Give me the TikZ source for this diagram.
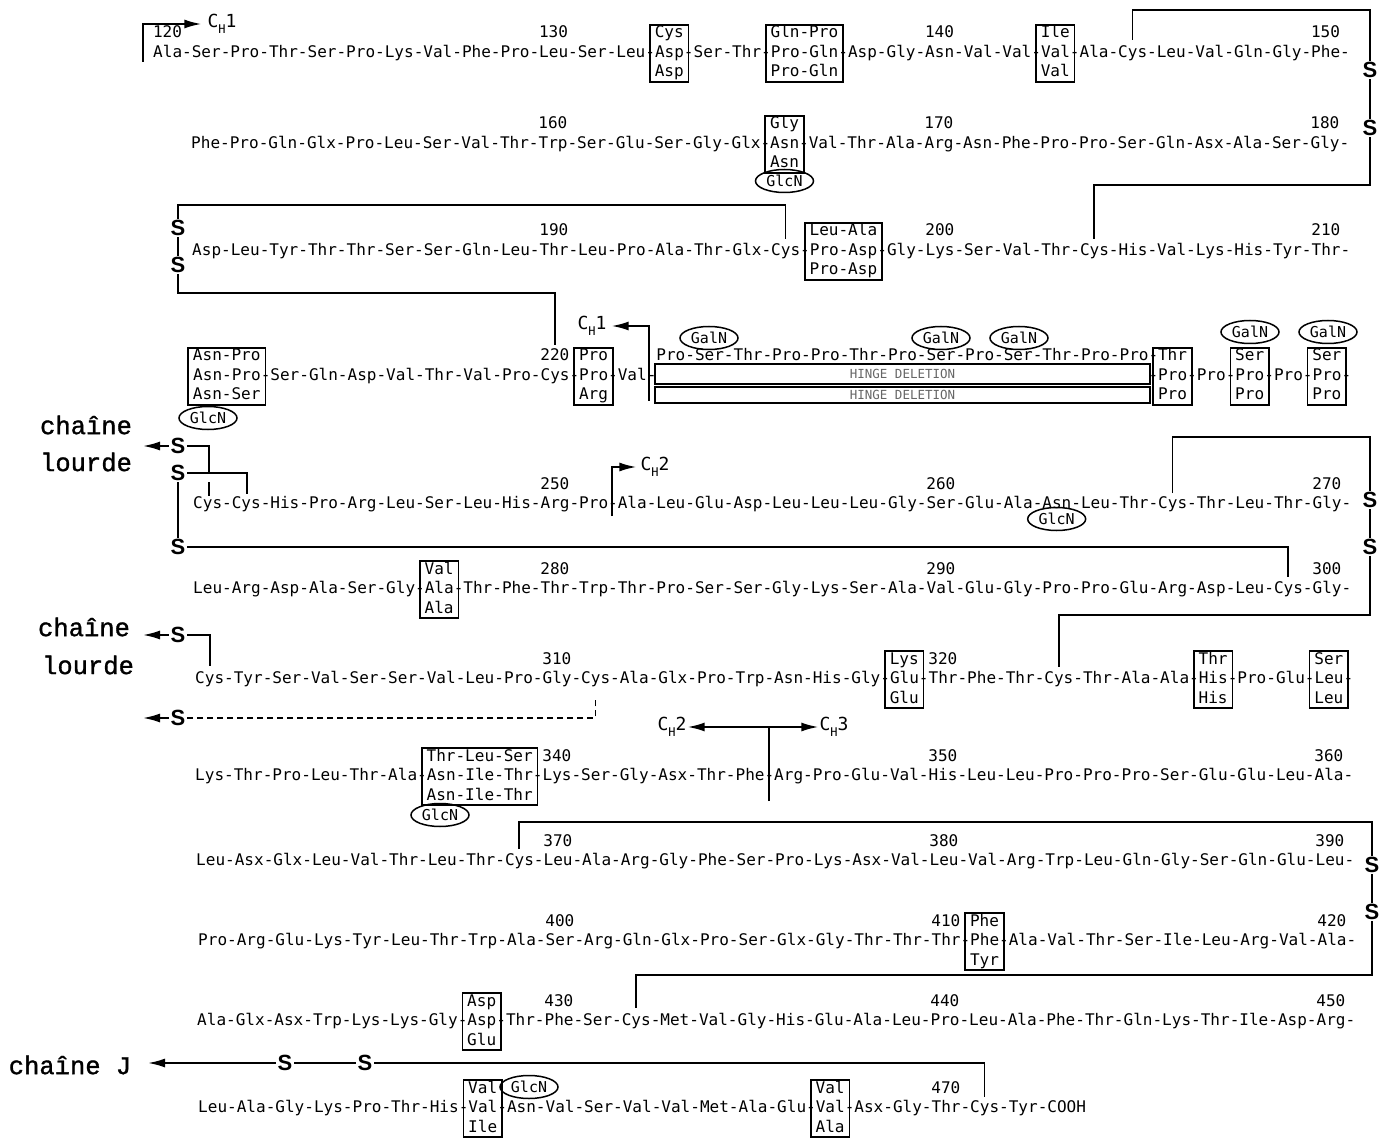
\documentclass[tikz,border=0pt]{standalone}
\usepackage{fontspec}
\usetikzlibrary{arrows.meta,shapes.geometric}
\newfontfamily\seqfont{DejaVu Sans Mono}
\newfontfamily\chfont{Liberation Mono}[FakeBold=1.2]
\newfontfamily\sfont{Liberation Sans}
\newcommand\cw{9.65}
\newcommand\bo{5.5}
\newcommand\chlab[1]{C\raisebox{-6pt}{\fontsize{12}{12}\selectfont H}#1}
% #1 name, #2 row x0, #3 residue index, #4 chars, #5 row centre y, #6 top, #7 bottom
\newcommand\seqbox[7]{%
  \node[boxst, minimum width={(#4+1)*\cw*1pt}] (#1) at ({#2+(4*#3+#4/2)*\cw}, {#5+1.5}) {};
  \node[seq, anchor=base] (#1t) at ({#2+(4*#3+#4/2)*\cw}, {#5-19.5+\bo}) {#6};
  \node[seq, anchor=base] (#1b) at ({#2+(4*#3+#4/2)*\cw}, {#5+19.5+\bo}) {#7};}
% #1 name, #2 row x0, #3 residue index, #4 row centre y, #5 text
\newcommand\seqnum[5]{%
  \node[seq, anchor=base] (#1) at ({#2+(4*#3+1.5)*\cw}, {#4-19.5+\bo}) {#5};}
\begin{document}
\begin{tikzpicture}[x=1pt,y=-1pt,
  seq/.style={font=\seqfont\fontsize{16.03}{19.5}\selectfont, inner sep=0pt},
  boxst/.style={draw, line width=1.7pt, minimum height=57pt, inner sep=0pt},
  sst/.style={font=\sfont\bfseries\fontsize{22}{22}\selectfont, inner sep=1.5pt},
  ss/.style={line width=1.9pt},
  arr/.style={line width=1.9pt,-{Latex[length=17pt,width=9pt]}},
  darr/.style={line width=1.9pt,{Latex[length=17pt,width=9pt]}-{Latex[length=17pt,width=9pt]}},
  gl/.style={ellipse, draw, line width=1.5pt, minimum width=58pt, minimum height=23pt, inner sep=0pt, font=\seqfont\fontsize{15}{15}\selectfont},
  hbar/.style={draw, line width=1.5pt, minimum width=495pt, inner sep=0pt, font=\seqfont\fontsize{12.5}{12.5}\selectfont, text=black!60},
  chst/.style={font=\chfont\fontsize{25.5}{30}\selectfont, inner sep=0pt},
  chl/.style={font=\seqfont\fontsize{18}{18}\selectfont, inner sep=1pt}]
\fill[white] (0,0) rectangle (1395,1139);
\useasboundingbox (0,0) rectangle (1395,1139);

% ---------- row a (120-150)
\node[seq, anchor=base west] (ra) at (153,{52+\bo}) {Ala-Ser-Pro-Thr-Ser-Pro-Lys-Val-Phe-Pro-Leu-Ser-Leu-Asp-Ser-Thr-Pro-Gln-Asp-Gly-Asn-Val-Val-Val-Ala-Cys-Leu-Val-Gln-Gly-Phe-};
\seqbox{ba1}{153}{13}{3}{52}{Cys}{Asp}
\seqbox{ba2}{153}{16}{7}{52}{Gln-Pro}{Pro-Gln}
\seqbox{ba3}{153}{23}{3}{52}{Ile}{Val}
\seqnum{na1}{153}{0}{52}{120}
\seqnum{na2}{153}{10}{52}{130}
\seqnum{na3}{153}{20}{52}{140}
\seqnum{na4}{153}{30}{52}{150}
\coordinate (ch0) at (143,62);
\node[chl] (lch0) at (222,24) {\chlab{1}};
\draw[arr] (ch0) |- ([xshift=-5pt]lch0.west);

% ---------- row b (151-180)
\node[seq, anchor=base west] (rb) at (191,{143+\bo}) {Phe-Pro-Gln-Glx-Pro-Leu-Ser-Val-Thr-Trp-Ser-Glu-Ser-Gly-Glx-Asn-Val-Thr-Ala-Arg-Asn-Phe-Pro-Pro-Ser-Gln-Asx-Ala-Ser-Gly-};
\seqbox{bb1}{191}{15}{3}{143}{Gly}{Asn}
\node[gl] (gb1) at ({191+61.5*\cw},181) {GlcN};
\seqnum{nb1}{191}{9}{143}{160}
\seqnum{nb2}{191}{19}{143}{170}
\seqnum{nb3}{191}{29}{143}{180}

% ---------- row c (181-210)
\node[seq, anchor=base west] (rc) at (192,{250+\bo}) {Asp-Leu-Tyr-Thr-Thr-Ser-Ser-Gln-Leu-Thr-Leu-Pro-Ala-Thr-Glx-Cys-Pro-Asp-Gly-Lys-Ser-Val-Thr-Cys-His-Val-Lys-His-Tyr-Thr-};
\seqbox{bc1}{192}{16}{7}{250}{Leu-Ala}{Pro-Asp}
\seqnum{nc1}{192}{9}{250}{190}
\seqnum{nc2}{192}{19}{250}{200}
\seqnum{nc3}{192}{29}{250}{210}

% ---------- row d (hinge)
\node[seq, anchor=base west] (rd1) at (193,{375+\bo}) {Asn-Pro-Ser-Gln-Asp-Val-Thr-Val-Pro-Cys-Pro-Val-};
\node[seq, anchor=base west] (rd2) at ({193+99*\cw},{375+\bo}) {-Pro-Pro-Pro-Pro-Pro-};
\node[seq, anchor=base west] (rdh) at ({193+48*\cw},{375-19.5+\bo}) {Pro-Ser-Thr-Pro-Pro-Thr-Pro-Ser-Pro-Ser-Thr-Pro-Pro-};
\seqbox{bd1}{193}{0}{7}{375}{Asn-Pro}{Asn-Ser}
\seqbox{bd2}{193}{10}{3}{375}{Pro}{Arg}
\seqbox{bd3}{193}{25}{3}{375}{Thr}{Pro}
\seqbox{bd4}{193}{27}{3}{375}{Ser}{Pro}
\seqbox{bd5}{193}{29}{3}{375}{Ser}{Pro}
\seqnum{nd1}{193}{9}{375}{220}
\node[hbar, minimum height=20pt] (hd1) at (902.5,374) {HINGE DELETION};
\node[hbar, minimum height=16pt] (hd2) at (902.5,395) {HINGE DELETION};
\node[gl] (gd1) at (208,418) {GlcN};
\node[gl] (gd2) at (709,338) {GalN};
\node[gl] (gd3) at (941,338) {GalN};
\node[gl] (gd4) at (1019,338) {GalN};
\node[gl] (gd5) at (1250,332) {GalN};
\node[gl] (gd6) at (1328,332) {GalN};
\coordinate (chA) at (649,401);
\node[chl] (lch1) at (592,326) {\chlab{1}};
\draw[arr] (chA) |- ([xshift=4pt]lch1.east);

% ---------- row e (241-270)
\node[seq, anchor=base west] (re) at (193,{503+\bo}) {Cys-Cys-His-Pro-Arg-Leu-Ser-Leu-His-Arg-Pro-Ala-Leu-Glu-Asp-Leu-Leu-Leu-Gly-Ser-Glu-Ala-Asn-Leu-Thr-Cys-Thr-Leu-Thr-Gly-};
\seqnum{ne1}{193}{9}{503}{250}
\seqnum{ne2}{193}{19}{503}{260}
\seqnum{ne3}{193}{29}{503}{270}
\node[gl] (ge1) at ({193+89.5*\cw},519) {GlcN};
\coordinate (chE) at (612,516);
\node[chl] (lch2) at (655,467) {\chlab{2}};
\draw[arr] (chE) |- ([xshift=-3pt]lch2.west);

% ---------- row f (271-300)
\node[seq, anchor=base west] (rf) at (193,{588+\bo}) {Leu-Arg-Asp-Ala-Ser-Gly-Ala-Thr-Phe-Thr-Trp-Thr-Pro-Ser-Ser-Gly-Lys-Ser-Ala-Val-Glu-Gly-Pro-Pro-Glu-Arg-Asp-Leu-Cys-Gly-};
\seqbox{bf1}{193}{6}{3}{588}{Val}{Ala}
\seqnum{nf1}{193}{9}{588}{280}
\seqnum{nf2}{193}{19}{588}{290}
\seqnum{nf3}{193}{29}{588}{300}

% ---------- row g (301-330)
\node[seq, anchor=base west] (rg) at (195,{678+\bo}) {Cys-Tyr-Ser-Val-Ser-Ser-Val-Leu-Pro-Gly-Cys-Ala-Glx-Pro-Trp-Asn-His-Gly-Glu-Thr-Phe-Thr-Cys-Thr-Ala-Ala-His-Pro-Glu-Leu-};
\seqbox{bg1}{195}{18}{3}{678}{Lys}{Glu}
\seqbox{bg2}{195}{26}{3}{678}{Thr}{His}
\seqbox{bg3}{195}{29}{3}{678}{Ser}{Leu}
\seqnum{ng1}{195}{9}{678}{310}
\seqnum{ng2}{195}{19}{678}{320}

% ---------- row h (331-360)
\node[seq, anchor=base west] (rh) at (195,{775+\bo}) {Lys-Thr-Pro-Leu-Thr-Ala-Asn-Ile-Thr-Lys-Ser-Gly-Asx-Thr-Phe-Arg-Pro-Glu-Val-His-Leu-Leu-Pro-Pro-Pro-Ser-Glu-Glu-Leu-Ala-};
\seqbox{bh1}{195}{6}{11}{775}{Thr-Leu-Ser}{Asn-Ile-Thr}
\node[gl] (gh1) at (440,815) {GlcN};
\seqnum{nh1}{195}{9}{775}{340}
\seqnum{nh2}{195}{19}{775}{350}
\seqnum{nh3}{195}{29}{775}{360}
\node[chl] (lch3a) at (672,727) {\chlab{2}};
\node[chl] (lch3b) at (834,727) {\chlab{3}};
\draw[darr] (lch3a.east) -- (lch3b.west);
\coordinate (chH) at ({195+59.5*\cw},801);
\draw[ss] (chH) -- (chH |- lch3a.east);

% ---------- row i (361-390)
\node[seq, anchor=base west] (ri) at (196,{860+\bo}) {Leu-Asx-Glx-Leu-Val-Thr-Leu-Thr-Cys-Leu-Ala-Arg-Gly-Phe-Ser-Pro-Lys-Asx-Val-Leu-Val-Arg-Trp-Leu-Gln-Gly-Ser-Gln-Glu-Leu-};
\seqnum{ni1}{196}{9}{860}{370}
\seqnum{ni2}{196}{19}{860}{380}
\seqnum{ni3}{196}{29}{860}{390}

% ---------- row j (391-420)
\node[seq, anchor=base west] (rj) at (198,{940+\bo}) {Pro-Arg-Glu-Lys-Tyr-Leu-Thr-Trp-Ala-Ser-Arg-Gln-Glx-Pro-Ser-Glx-Gly-Thr-Thr-Thr-Phe-Ala-Val-Thr-Ser-Ile-Leu-Arg-Val-Ala-};
\seqbox{bj1}{198}{20}{3}{940}{Phe}{Tyr}
\seqnum{nj1}{198}{9}{940}{400}
\seqnum{nj2}{198}{19}{940}{410}
\seqnum{nj3}{198}{29}{940}{420}

% ---------- row k (421-450)
\node[seq, anchor=base west] (rk) at (197,{1020+\bo}) {Ala-Glx-Asx-Trp-Lys-Lys-Gly-Asp-Thr-Phe-Ser-Cys-Met-Val-Gly-His-Glu-Ala-Leu-Pro-Leu-Ala-Phe-Thr-Gln-Lys-Thr-Ile-Asp-Arg-};
\seqbox{bk1}{197}{7}{3}{1020}{Asp}{Glu}
\seqnum{nk1}{197}{9}{1020}{430}
\seqnum{nk2}{197}{19}{1020}{440}
\seqnum{nk3}{197}{29}{1020}{450}

% ---------- row l (451-472)
\node[seq, anchor=base west] (rl) at (198,{1107+\bo}) {Leu-Ala-Gly-Lys-Pro-Thr-His-Val-Asn-Val-Ser-Val-Val-Met-Ala-Glu-Val-Asx-Gly-Thr-Cys-Tyr-COOH};
\seqbox{bl1}{198}{7}{3}{1107}{Val}{Ile}
\seqbox{bl2}{198}{16}{3}{1107}{Val}{Ala}
\node[gl] (gl1) at (529,1087) {GlcN};
\seqnum{nl1}{198}{19}{1107}{470}

% ---------- chain labels
\node[chst] (cl1a) at (86,425) {chaîne};
\node[chst] (cl1b) at (86,462) {lourde};
\node[chst] (cl2a) at (84,627) {chaîne};
\node[chst] (cl2b) at (88,665) {lourde};
\node[chst] (clj) at (70,1065) {chaîne J};

% ---------- S atoms
\node[sst] (Sa) at (1370,70) {S};
\node[sst] (Sb) at (1370,128) {S};
\node[sst] (Sc) at (178,228) {S};
\node[sst] (Sd) at (178,265) {S};
\node[sst] (S1) at (178,446) {S};
\node[sst] (S2) at (178,473) {S};
\node[sst] (S3) at (178,547) {S};
\node[sst] (Se) at (1370,500) {S};
\node[sst] (Sf) at (1370,547) {S};
\node[sst] (S4) at (178,635) {S};
\node[sst] (S5) at (178,718) {S};
\node[sst] (Sg) at (1372,865) {S};
\node[sst] (Sh) at (1372,912) {S};
\node[sst] (Si) at (285,1063) {S};
\node[sst] (Sj) at (365,1063) {S};

% ---------- disulfide bridges
\coordinate (ca145) at ({153+101.5*\cw},40);
\coordinate (k1) at (1370,10);
\draw[ss] (ca145) |- (k1) -- (Sa);
\draw[ss] (Sa) -- (Sb);
\coordinate (k2) at (1370,185);
\coordinate (cc204) at ({192+93.5*\cw},239);
\draw[ss] (Sb) -- (k2) -| (cc204);

\coordinate (cc196) at ({192+61.5*\cw},239);
\coordinate (k3) at (178,205);
\draw[ss] (cc196) |- (k3) -- (Sc);
\draw[ss] (Sc) -- (Sd);
\coordinate (k4) at (178,293);
\coordinate (cd220) at ({193+37.5*\cw},345);
\draw[ss] (Sd) -- (k4) -| (cd220);

\coordinate (a1) at (143,446);
\draw[arr] (S1) -- (a1);
\coordinate (k5) at (209,446);
\coordinate (ce241) at (209,472);
\draw[ss] (S1) -- (k5) -- (ce241);
\coordinate (ce241b) at (209,482);
\coordinate (ce241c) at (209,496);
\draw[ss] (ce241b) -- (ce241c);
\coordinate (k6) at (247,473);
\coordinate (ce242) at (247,494);
\draw[ss] (S2) -- (k6) -- (ce242);
\draw[ss] (S2) -- (S3);
\coordinate (k7) at ({193+113.5*\cw},547);
\coordinate (cf299) at ({193+113.5*\cw},577);
\draw[ss] (S3) -- (k7) -- (cf299);

\coordinate (ce265) at ({193+101.5*\cw},493);
\coordinate (k8) at (1370,437);
\draw[ss] (ce265) |- (k8) -- (Se);
\draw[ss] (Se) -- (Sf);
\coordinate (k9) at (1370,615);
\coordinate (cg321) at ({195+89.5*\cw},667);
\draw[ss] (Sf) -- (k9) -| (cg321);

\coordinate (a2) at (143,635);
\draw[arr] (S4) -- (a2);
\coordinate (k10) at (210,635);
\coordinate (cg301) at (210,666);
\draw[ss] (S4) -- (k10) -- (cg301);
\coordinate (a3) at (143,718);
\draw[arr] (S5) -- (a3);
\coordinate (cg311) at ({195+41.5*\cw},700);
\draw[ss, dash pattern=on 6pt off 4pt] (S5) -| (cg311);

\coordinate (ci369) at ({196+33.5*\cw},849);
\coordinate (k12) at (1372,822);
\draw[ss] (ci369) |- (k12) -- (Sg);
\draw[ss] (Sg) -- (Sh);
\coordinate (k13) at (1372,975);
\coordinate (ck433) at ({197+45.5*\cw},1008);
\draw[ss] (Sh) -- (k13) -| (ck433);

\coordinate (a4) at (148,1063);
\draw[arr] (Si) -- (a4);
\draw[ss] (Si) -- (Sj);
\coordinate (cl471) at ({198+81.5*\cw},1097);
\draw[ss] (Sj) -| (cl471);
\end{tikzpicture}
\end{document}
